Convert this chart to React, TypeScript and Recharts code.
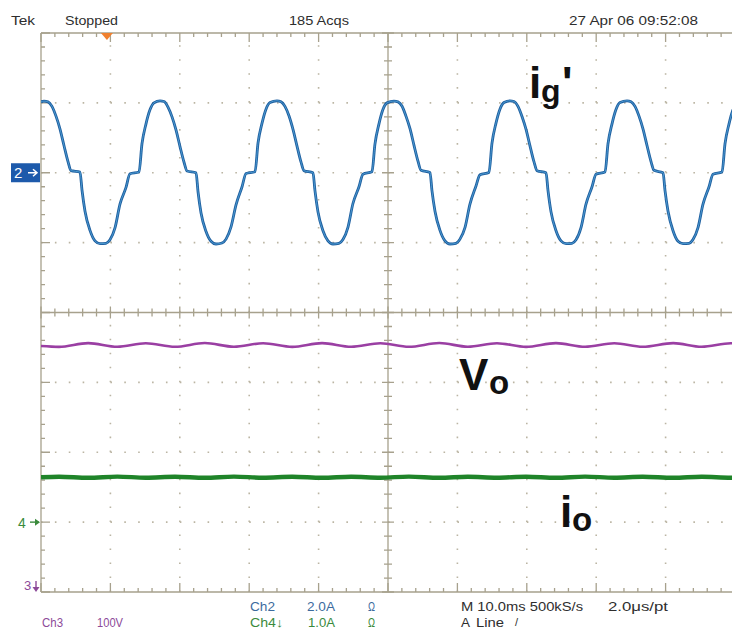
import React from "react";
import { LineChart, Line, XAxis, YAxis, ReferenceLine, ReferenceDot } from "recharts";

// time axis: 10 ms/div, 10 divisions
const timeDomain = [0, 100];

// Ch2 (ig') 2.0 A/div, ground marker 2 divisions above centre
const igTime = [
  0,
  0.43, 1.01, 1.58, 2.16, 2.74, 3.31, 3.89, 4.32, 5.62, 5.91, 6.34, 7.06, 7.78, 8.5, 9.36, 9.94, 10.66, 11.38, 12.25, 12.82, 14.12, 14.55, 15.13, 15.7, 16.28,
  17.15, 17.73, 18.3, 18.88, 19.46, 20.03, 20.61, 21.04, 22.34, 22.63, 23.06, 23.78, 24.5, 25.22, 26.08, 26.66, 27.38, 28.1, 28.97, 29.54, 30.84, 31.27, 31.85, 32.42, 33.0,
  34.0, 34.58, 35.15, 35.73, 36.31, 36.88, 37.46, 37.89, 39.19, 39.48, 39.91, 40.63, 41.35, 42.07, 42.93, 43.51, 44.23, 44.95, 45.82, 46.39, 47.69, 48.12, 48.7, 49.27, 49.85,
  50.86, 51.44, 52.01, 52.59, 53.17, 53.74, 54.32, 54.75, 56.05, 56.34, 56.77, 57.49, 58.21, 58.93, 59.79, 60.37, 61.09, 61.81, 62.68, 63.25, 64.55, 64.98, 65.56, 66.13, 66.71,
  67.58, 68.16, 68.73, 69.31, 69.89, 70.46, 71.04, 71.47, 72.77, 73.06, 73.49, 74.21, 74.93, 75.65, 76.51, 77.09, 77.81, 78.53, 79.4, 79.97, 81.27, 81.7, 82.28, 82.85, 83.43,
  84.44, 85.02, 85.59, 86.17, 86.75, 87.32, 87.9, 88.33, 89.63, 89.92, 90.35, 91.07, 91.79, 92.51, 93.37, 93.95, 94.67, 95.39, 96.26, 96.83, 98.13, 98.56, 99.14, 99.71, 100,
];
const igAmps = [
  2.03,
  2.05, 2.03, 1.9, 1.62, 1.25, 0.78, 0.32, 0.06, 0.02, -0.5, -1.1, -1.65, -1.95, -2.03, -2.02, -1.92, -1.58, -0.9, -0.42, -0.03, 0.02, 0.83, 1.4, 1.8, 2.0,
  2.06, 2.04, 1.88, 1.6, 1.22, 0.75, 0.3, 0.05, 0.0, -0.55, -1.15, -1.68, -1.96, -2.04, -2.01, -1.9, -1.55, -0.92, -0.4, -0.02, 0.03, 0.85, 1.42, 1.82, 2.01,
  2.06, 2.03, 1.9, 1.63, 1.24, 0.77, 0.31, 0.06, 0.0, -0.52, -1.12, -1.66, -1.95, -2.04, -2.02, -1.91, -1.56, -0.88, -0.4, -0.04, 0.03, 0.82, 1.4, 1.81, 2.0,
  2.05, 2.03, 1.91, 1.62, 1.26, 0.79, 0.33, 0.07, 0.01, -0.52, -1.1, -1.65, -1.95, -2.04, -2.02, -1.9, -1.57, -0.9, -0.38, -0.06, 0.01, 0.84, 1.42, 1.82, 2.01,
  2.06, 2.04, 1.9, 1.61, 1.24, 0.77, 0.31, 0.06, 0.0, -0.52, -1.12, -1.66, -1.95, -2.03, -2.02, -1.92, -1.57, -0.9, -0.4, -0.04, 0.02, 0.83, 1.4, 1.81, 2.01,
  2.06, 2.03, 1.9, 1.62, 1.25, 0.78, 0.32, 0.07, 0.0, -0.52, -1.1, -1.66, -1.96, -2.03, -2.02, -1.91, -1.57, -0.9, -0.4, -0.04, 0.02, 0.83, 1.4, 1.8, 1.9,
];

// Ch3 (Vo) 100 V/div, ground at bottom edge
const voTime = [0, 2.6, 6.8, 11.0, 15.1, 19.3, 23.6, 27.8, 32.0, 36.2, 40.5, 44.7, 48.9, 53.0, 57.4, 61.5, 65.7, 69.9, 74.2, 78.4, 82.6, 86.7, 91.1, 95.2, 99.4, 100];
const voVolts = [352, 350.8, 356.2, 351, 356, 350.9, 356.3, 351, 356, 350.8, 356.2, 351, 356, 350.9, 356.3, 351, 356, 350.8, 356.2, 351, 356, 350.9, 356.2, 351, 356, 355.9];

// Ch4 (io) 1.0 A/div, ground marker 3 divisions below centre
const ioTime = [0, 2.6, 6.8, 11.0, 15.1, 19.3, 23.6, 27.8, 32.0, 36.2, 40.5, 44.7, 48.9, 53.0, 57.4, 61.5, 65.7, 69.9, 74.2, 78.4, 82.6, 86.7, 91.1, 95.2, 99.4, 100];
const ioAmps = [0.642, 0.65, 0.635, 0.651, 0.636, 0.65, 0.635, 0.651, 0.636, 0.65, 0.635, 0.65, 0.636, 0.651, 0.635, 0.65, 0.636, 0.65, 0.635, 0.651, 0.636, 0.65, 0.635, 0.65, 0.636, 0.637];

const gridRows = [-3, -2, -1, 1, 2, 3];
const gridCols = [10, 20, 30, 40, 60, 70, 80, 90];

const igData = igTime.map((t, i) => ({ t, v: igAmps[i] }));
const voData = voTime.map((t, i) => ({ t, v: voVolts[i] }));
const ioData = ioTime.map((t, i) => ({ t, v: ioAmps[i] }));

const FRAME = "#a7a18d";
const DOT = "#bbb5a3";
const TXT = "#2e2e2e";
const BLUE = "#3c6b9e";
const PURPLE = "#8c4a99";
const GREEN = "#3a8a3c";
const FONT = "'Liberation Sans', Arial, sans-serif";

// graticule rule with minor ticks (5 per division)
const ruler = (side: "top" | "bottom" | "left" | "both") => (p: any) => {
  const { x1, y1, x2, y2 } = p;
  const horiz = Math.abs(y1 - y2) < 0.5;
  const n = horiz ? 50 : 40;
  let d = `M${x1},${y1}L${x2},${y2}`;
  for (let i = 0; i <= n; i++) {
    const major = i % 5 === 0;
    const len = side === "both" ? (major ? 6 : 4) : major ? 9 : 4;
    if (horiz) {
      const x = x1 + ((x2 - x1) * i) / n;
      if (side === "top") d += `M${x},${y1}L${x},${y1 + len}`;
      else if (side === "bottom") d += `M${x},${y1}L${x},${y1 - len}`;
      else d += `M${x},${y1 - len}L${x},${y1 + len}`;
    } else {
      const y = y1 + ((y2 - y1) * i) / n;
      if (side === "left") d += `M${x1},${y}L${x1 + len},${y}`;
      else d += `M${x1 - len},${y}L${x1 + len},${y}`;
    }
  }
  return <path d={d} stroke={FRAME} strokeWidth={1.3} fill="none" />;
};

const ch2Tag = (p: any) => (
  <g>
    <rect x={p.cx - 30} y={p.cy - 9.5} width={29} height={19} fill="#1d5aab" />
    <text x={p.cx - 27} y={p.cy + 5.5} fill="#fff" fontSize={15} fontFamily={FONT}>2</text>
    <path d={`M${p.cx - 13},${p.cy}L${p.cx - 4},${p.cy}M${p.cx - 8},${p.cy - 3.5}L${p.cx - 4},${p.cy}L${p.cx - 8},${p.cy + 3.5}`} stroke="#fff" strokeWidth={1.5} fill="none" />
  </g>
);

const ch4Tag = (p: any) => (
  <g>
    <text x={p.cx - 23} y={p.cy + 6} fill={GREEN} fontSize={14} fontFamily={FONT}>4</text>
    <path d={`M${p.cx - 11},${p.cy}L${p.cx - 2},${p.cy}`} stroke={GREEN} strokeWidth={1.4} />
    <path d={`M${p.cx - 6},${p.cy - 3.5}L${p.cx - 1},${p.cy}L${p.cx - 6},${p.cy + 3.5}Z`} fill={GREEN} />
  </g>
);

const ch3Tag = (p: any) => (
  <g>
    <text x={p.cx - 17} y={p.cy - 2} fill={PURPLE} fontSize={13} fontFamily={FONT}>3</text>
    <path d={`M${p.cx - 5},${p.cy - 11}L${p.cx - 5},${p.cy - 3}`} stroke={PURPLE} strokeWidth={1.4} />
    <path d={`M${p.cx - 8.5},${p.cy - 5}L${p.cx - 5},${p.cy}L${p.cx - 1.5},${p.cy - 5}Z`} fill={PURPLE} />
  </g>
);

const trigger = (p: any) => (
  <path d={`M${p.cx - 6},${p.cy}L${p.cx + 6},${p.cy}L${p.cx},${p.cy + 7}Z`} fill="#f0802e" />
);

const T = ({ x, y, w, c = TXT, children }: any) => (
  <text x={x} y={y} fill={c} fontSize={13} fontFamily={FONT} textLength={w} lengthAdjust="spacingAndGlyphs">
    {children}
  </text>
);

export default function App() {
  return (
    <div style={{ position: "absolute", left: 0, top: 0, width: 732, height: 639, overflow: "hidden", background: "#fff" }}>
      <LineChart width={736} height={639} margin={{ top: 33, left: 41, right: 1, bottom: 47 }}>
        <XAxis type="number" dataKey="t" domain={timeDomain} hide allowDataOverflow />
        <YAxis yAxisId="grid" type="number" domain={[-4, 4]} hide allowDataOverflow />
        <YAxis yAxisId="ch2" type="number" domain={[-12, 4]} hide allowDataOverflow />
        <YAxis yAxisId="ch3" type="number" domain={[0, 800]} hide allowDataOverflow />
        <YAxis yAxisId="ch4" type="number" domain={[-1, 7]} hide allowDataOverflow />

        {gridRows.map((r) => (
          <ReferenceLine key={"r" + r} y={r} yAxisId="grid" stroke={DOT} strokeWidth={1.6} strokeDasharray="1.6 12.28" />
        ))}
        {gridCols.map((c) => (
          <ReferenceLine key={"c" + c} x={c} yAxisId="grid" stroke={DOT} strokeWidth={1.6} strokeDasharray="1.6 12.38" />
        ))}
        <ReferenceLine y={4} yAxisId="grid" ifOverflow="visible" shape={ruler("top")} />
        <ReferenceLine y={-4} yAxisId="grid" ifOverflow="visible" shape={ruler("bottom")} />
        <ReferenceLine x={0} yAxisId="grid" ifOverflow="visible" shape={ruler("left")} />
        <ReferenceLine y={0} yAxisId="grid" ifOverflow="visible" shape={ruler("both")} />
        <ReferenceLine x={50} yAxisId="grid" ifOverflow="visible" shape={ruler("both")} />

        <Line data={voData} dataKey="v" yAxisId="ch3" type="monotone" dot={false} stroke="#9a3fa3" strokeWidth={2.6} isAnimationActive={false} />
        <Line data={ioData} dataKey="v" yAxisId="ch4" type="monotone" dot={false} stroke="#1f8429" strokeWidth={4.4} isAnimationActive={false} />
        <Line data={igData} dataKey="v" yAxisId="ch2" type="monotone" dot={false} stroke="#1f5f9f" strokeWidth={2.8} isAnimationActive={false} />
        <Line data={igData} dataKey="v" yAxisId="ch2" type="monotone" dot={false} stroke="#4f9fd6" strokeWidth={0.9} isAnimationActive={false} />

        <ReferenceDot x={0} y={0} yAxisId="ch2" ifOverflow="visible" shape={ch2Tag} />
        <ReferenceDot x={0} y={0} yAxisId="ch4" ifOverflow="visible" shape={ch4Tag} />
        <ReferenceDot x={0} y={0} yAxisId="ch3" ifOverflow="visible" shape={ch3Tag} />
        <ReferenceDot x={9.5} y={4} yAxisId="grid" ifOverflow="visible" shape={trigger} />
      </LineChart>

      <svg width={732} height={639} style={{ position: "absolute", left: 0, top: 0, pointerEvents: "none" }}>
        <T x={11} y={25} w={24}>Tek</T>
        <T x={65} y={25} w={53}>Stopped</T>
        <T x={289} y={25} w={60}>185 Acqs</T>
        <T x={569} y={25} w={129}>27 Apr 06 09:52:08</T>

        <T x={250} y={611} w={25} c={BLUE}>Ch2</T>
        <T x={307} y={611} w={28} c={BLUE}>2.0A</T>
        <T x={368} y={611} w={7} c={BLUE}>Ω</T>
        <T x={461} y={611} w={122}>M 10.0ms 500kS/s</T>
        <T x={608} y={611} w={60}>2.0μs/pt</T>

        <T x={42} y={627} w={21} c={PURPLE}>Ch3</T>
        <T x={97} y={627} w={26} c={PURPLE}>100V</T>
        <T x={250} y={627} w={33} c={GREEN}>Ch4↓</T>
        <T x={308} y={627} w={27} c={GREEN}>1.0A</T>
        <T x={368} y={627} w={7} c={GREEN}>Ω</T>
        <T x={461} y={627} w={9}>A</T>
        <T x={476} y={627} w={28}>Line</T>
        <text x={515} y={626} fill={TXT} fontSize={11} fontFamily={FONT}>/</text>

        <text fontFamily={FONT} fontWeight="bold" fill="#111">
          <tspan x={529} y={98} fontSize={44}>i</tspan>
          <tspan x={541} y={102} fontSize={32}>g</tspan>
          <tspan x={562} y={98} fontSize={44}>'</tspan>
        </text>
        <text fontFamily={FONT} fontWeight="bold" fill="#111">
          <tspan x={459} y={390} fontSize={44}>V</tspan>
          <tspan x={489} y={394} fontSize={33}>o</tspan>
        </text>
        <text fontFamily={FONT} fontWeight="bold" fill="#111">
          <tspan x={560} y={527} fontSize={44}>i</tspan>
          <tspan x={572} y={531} fontSize={33}>o</tspan>
        </text>
      </svg>
    </div>
  );
}
